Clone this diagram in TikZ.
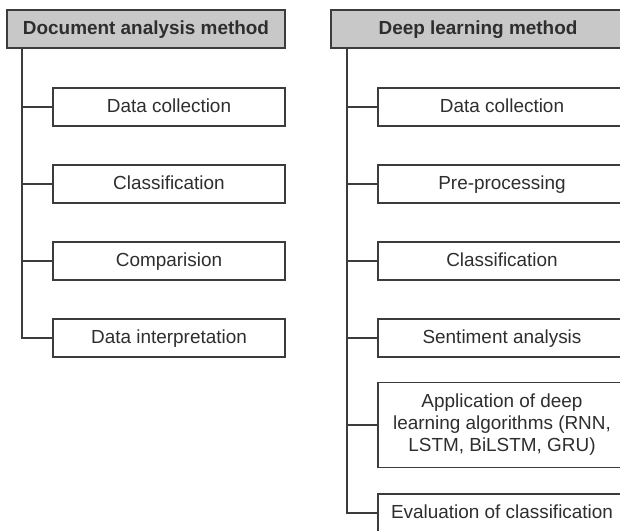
\documentclass[tikz,border=0pt]{standalone}
\usepackage{fontspec}
\setmainfont{Liberation Sans}
\definecolor{ln}{HTML}{3C3C3C}
\definecolor{hd}{HTML}{C8C8C8}
\definecolor{tx}{HTML}{2E2E2E}
\begin{document}
\begin{tikzpicture}[x=1bp,y=-1bp,
  hdr/.style={draw=ln,line width=1.5bp,fill=hd,minimum height=38bp,inner sep=0pt,
    text height=13.5bp,text depth=2.8bp,
    font=\fontsize{19}{22}\selectfont\bfseries,text=tx},
  lbox/.style={draw=ln,line width=1.5bp,fill=white,minimum width=232bp,minimum height=38bp,inner sep=0pt,
    text height=13.5bp,text depth=2bp,
    font=\fontsize{19}{22}\selectfont,text=tx},
  rbox/.style={lbox,minimum width=248bp},
  conn/.style={draw=ln,line width=1.5bp}]
\useasboundingbox (0,0) rectangle (620,531);
\clip (0,0) rectangle (620,531);
% left column
\node[hdr,minimum width=278bp] (lh) at (146,29) {Document analysis method};
\coordinate (lt) at (22,48);
\node[lbox] (l1) at (169,107) {Data collection};
\node[lbox] (l2) at (169,184) {Classification};
\node[lbox] (l3) at (169,261) {Comparision};
\node[lbox] (l4) at (169,338) {Data interpretation};
\draw[conn] (lt) |- (l4.west);
\foreach \n in {l1,l2,l3} \draw[conn] (\n.west) -- (\n.west -| lt);
% right column
\node[hdr,minimum width=294bp] (rh) at (478,29) {Deep learning method};
\coordinate (rt) at (347,48);
\node[rbox] (r1) at (502,107) {Data collection};
\node[rbox] (r2) at (502,184) {Pre-processing};
\node[rbox] (r3) at (502,261) {Classification};
\node[rbox] (r4) at (502,338) {Sentiment analysis};
\node[rbox,minimum height=85bp,align=center,text height=,text depth=] (r5) at (502,425) {Application of deep\\learning algorithms (RNN,\\LSTM, BiLSTM, GRU)};
\node[rbox] (r6) at (502,513) {Evaluation of classification};
\draw[conn] (rt) |- (r6.west);
\foreach \n in {r1,r2,r3,r4,r5} \draw[conn] (\n.west) -- (\n.west -| rt);
\end{tikzpicture}
\end{document}
